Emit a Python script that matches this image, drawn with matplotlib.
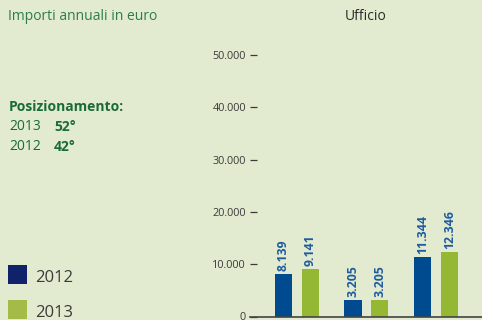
import matplotlib
matplotlib.use('Agg')
import matplotlib.pyplot as plt
from matplotlib.patches import Rectangle
import numpy as np

plt.rcParams['font.family'] = ['Open Sans', 'DejaVu Sans']

# importi annuali per l'ufficio (euro)
valori_2012 = [8139, 3205, 11344]
valori_2013 = [9141, 3205, 12346]
etichette_2012 = ['8.139', '3.205', '11.344']
etichette_2013 = ['9.141', '3.205', '12.346']
tick_valori = [0, 10000, 20000, 30000, 40000, 50000]
tick_etichette = ['0', '10.000', '20.000', '30.000', '40.000', '50.000']
anni = ['2012', '2013']
posizioni = [('2013', '52°'), ('2012', '42°')]

sfondo = '#E2EBCF'
blu = '#004A8F'
verde = '#95B834'
blu_leg = '#10236A'
verde_leg = '#A4BB47'
verde_testo = '#2E7B4E'
verde_scuro = '#1B6A3A'
grigio = '#3A3A3A'

W, H = 482, 320
fig = plt.figure(figsize=(W / 100, H / 100), dpi=100, facecolor=sfondo)

# assi: sinistra a x=250 px, zero a y=316.5 px
ax = fig.add_axes([250 / W, (H - 316.5) / H, (W - 250) / W, 290 / H])
ax.set_facecolor(sfondo)

x = np.arange(len(valori_2012))
larg = 0.245
off = 0.194
b1 = ax.bar(x - off, valori_2012, larg, color=blu)
b2 = ax.bar(x + off, valori_2013, larg, color=verde)

for barre, etichette in ((b1, etichette_2012), (b2, etichette_2013)):
    for b, t in zip(barre, etichette):
        ax.annotate(t, (b.get_x() + b.get_width() / 2, b.get_height()),
                    xytext=(0, 2), textcoords='offset points',
                    rotation=90, ha='center', va='bottom',
                    fontsize=8.8, fontweight='bold', color='#1F5C9E')

ax.set_xlim(-0.676, 2.662)
ax.set_ylim(0, 290 / 261.5 * 50000)
ax.set_yticks(tick_valori)
ax.set_yticklabels(tick_etichette)
ax.set_xticks([])
ax.tick_params(axis='y', direction='in', length=5, width=0.9, color=grigio,
               pad=3, labelsize=7.8, labelcolor=grigio)
for s in ('top', 'right', 'left'):
    ax.spines[s].set_visible(False)
ax.spines['bottom'].set_color('#444444')
ax.spines['bottom'].set_linewidth(1.2)

# testi
fig.text(366 / W, 1 - 17 / H, 'Ufficio', ha='center', va='center',
         fontsize=10, color='#2A2A2A')
fig.text(8 / W, 1 - 16 / H, 'Importi annuali in euro', ha='left', va='center',
         fontsize=10, color=verde_testo)
fig.text(9 / W, 1 - 107 / H, 'Posizionamento:', ha='left', va='center',
         fontsize=10, fontweight='bold', color=verde_scuro)
for i, (anno, pos) in enumerate(posizioni):
    y = 1 - (127 + 20 * i) / H
    fig.text(9 / W, y, anno, ha='left', va='center', fontsize=10,
             color=verde_scuro)
    fig.text(54 / W, y, pos, ha='left', va='center', fontsize=10,
             fontweight='bold', color=verde_scuro)

# legenda
for i, (anno, col) in enumerate(zip(anni, (blu_leg, verde_leg))):
    top = 265 + 35 * i
    fig.add_artist(Rectangle((8 / W, 1 - (top + 19) / H), 19 / W, 19 / H,
                             transform=fig.transFigure, color=col, lw=0))
    fig.text(35 / W, 1 - (top + 13) / H, anno, ha='left', va='center',
             fontsize=12, color=grigio)

plt.savefig('out.png', dpi=100, facecolor=sfondo)
plt.close()
